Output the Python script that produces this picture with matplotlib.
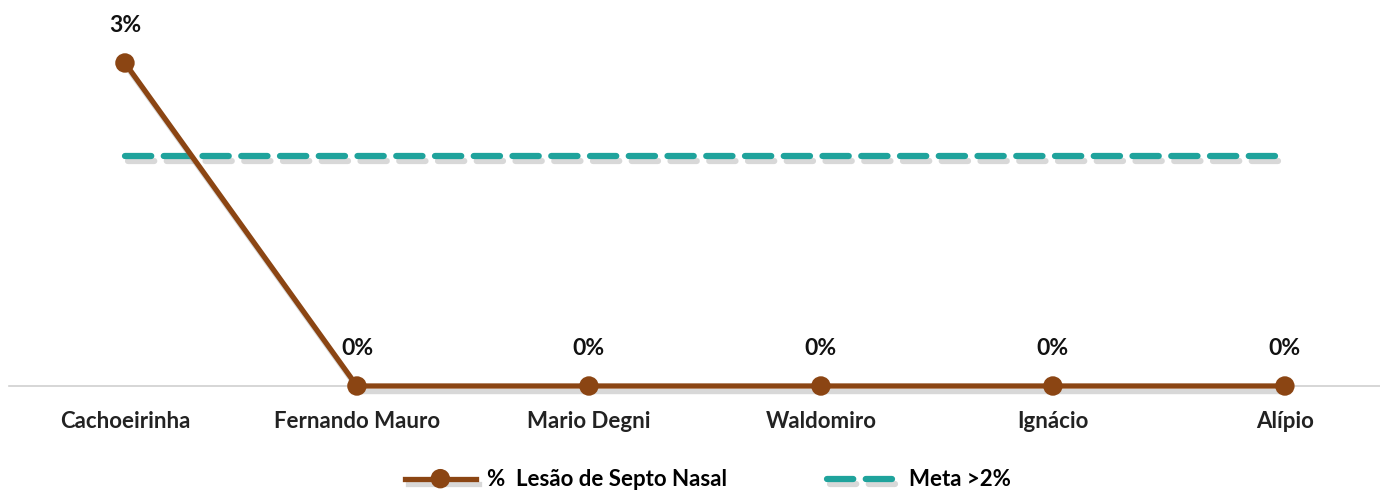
import numpy as np
import matplotlib
matplotlib.use("Agg")
import matplotlib.pyplot as plt
import matplotlib.patheffects as pe

# data
unidades = ["Cachoeirinha", "Fernando Mauro", "Mario Degni", "Waldomiro", "Ignácio", "Alípio"]
lesao = [3, 0, 0, 0, 0, 0]
meta = [2.14] * 6

brown = "#8B4513"
teal = "#1FA39C"

plt.rcParams["font.family"] = ["Lato", "DejaVu Sans"]
plt.rcParams["font.weight"] = "bold"

fig = plt.figure(figsize=(13.8, 4.98), dpi=100)
ax = fig.add_axes([0.0065, 0.2249, 0.9935, 0.7135])

x = np.arange(len(unidades))
shadow = [pe.SimpleLineShadow(offset=(2, -4), shadow_color="gray", alpha=0.3), pe.Normal()]

l2, = ax.plot(x, meta, color=teal, lw=4.5, dashes=(4.2, 2.0), dash_capstyle="round",
              path_effects=shadow, label="Meta >2%", zorder=2)
l1, = ax.plot(x, lesao, color=brown, lw=3.8, marker="o", markersize=14, markeredgewidth=0,
              path_effects=shadow, label="%  Lesão de Septo Nasal", zorder=3, clip_on=False)

for xi, v in zip(x, lesao):
    ax.annotate(f"{v:.0f}%", (xi, v), xytext=(0, 27), textcoords="offset points",
                ha="center", va="center", fontsize=16.5, fontweight="bold", color="#111111")

ax.set_xlim(-0.5, 5.41)
ax.set_ylim(0, 3.3)
ax.set_yticks([])
ax.set_xticks(x)
ax.set_xticklabels(unidades, fontsize=16, fontweight="bold", color="#222222")
ax.tick_params(axis="x", length=0, pad=18)
for s in ["top", "right", "left"]:
    ax.spines[s].set_visible(False)
ax.spines["bottom"].set_color("#d0d0d0")
ax.spines["bottom"].set_linewidth(1.2)

fig.legend(handles=[l1, l2], loc="lower center", bbox_to_anchor=(0.513, -0.025), ncol=2,
           frameon=False, handlelength=3.2, columnspacing=4.5, handletextpad=0.5,
           prop={"weight": "bold", "size": 16})

fig.savefig("out.png", dpi=100)
